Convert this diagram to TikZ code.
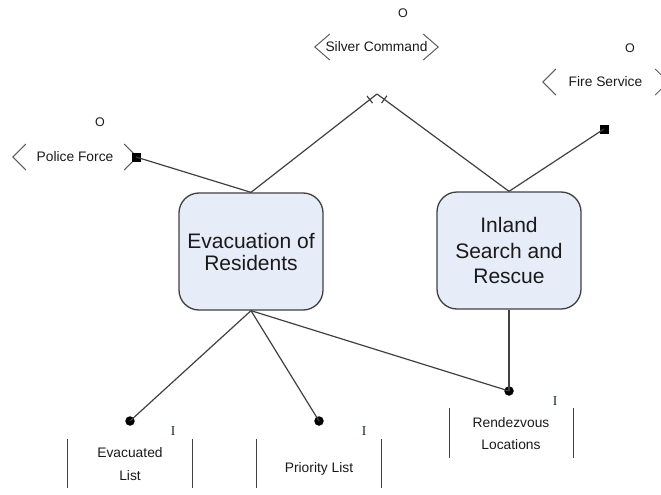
\documentclass[tikz,border=0pt]{standalone}
\usepackage{fontspec}
\setmainfont{Liberation Sans}
\newfontfamily\serifI{Liberation Serif}
\usetikzlibrary{calc}
\definecolor{linec}{HTML}{404040}
\definecolor{boxfill}{HTML}{E6ECF8}
\definecolor{txt}{HTML}{1A1A1A}
\newcommand\rolebrackets[3]{%
  \draw[bracket] ([shift={(#2,-#3)}]#1.west) -- (#1.west) -- ([shift={(#2,#3)}]#1.west);
  \draw[bracket] ([shift={(-#2,-#3)}]#1.east) -- (#1.east) -- ([shift={(-#2,#3)}]#1.east);}
\newcommand\storelines[1]{%
  \draw[storeline] (#1.north west) -- (#1.south west);
  \draw[storeline] (#1.north east) -- (#1.south east);}
\begin{document}
\begin{tikzpicture}[x=1pt,y=-1pt,
  conn/.style={draw=linec, line width=1.2pt},
  bracket/.style={draw=linec!85, line width=1pt},
  storeline/.style={draw=linec, line width=1.3pt},
  task/.style={draw=linec, line width=1.3pt, fill=boxfill, rounded corners=20pt,
    minimum width=144pt, minimum height=117pt, align=center, text=txt, inner sep=0pt},
  role/.style={minimum height=26pt, inner sep=0pt, text=txt, font=\fontsize{13.8}{16}\selectfont},
  small/.style={text=txt, align=center, font=\fontsize{13.8}{23}\selectfont, inner sep=0pt},
  store/.style={minimum width=124pt, minimum height=49pt, inner sep=0pt},
  mark O/.style={text=txt, font=\fontsize{12.5}{14}\selectfont, inner sep=0pt},
  mark I/.style={text=txt!85!teal, font=\serifI\fontsize{13.5}{14}\selectfont, inner sep=0pt},
  sq/.style={fill=black, minimum size=9pt, inner sep=0pt},
  dot/.style={circle, fill=black, minimum size=9.5pt, inner sep=0pt},
]
\useasboundingbox (0,0) rectangle (661,495);

% roles
\node[role, minimum width=123pt] (silver) at (376.5,47) {Silver Command};
\rolebrackets{silver}{15}{13}
\node[mark O] (silverO) at (403,13) {O};

\node[role, minimum width=125pt] (fire) at (605.5,82) {Fire Service};
\rolebrackets{fire}{13}{13}
\node[mark O] (fireO) at (630,48) {O};

\node[role, minimum width=124pt] (police) at (75,157) {Police Force};
\rolebrackets{police}{13}{13}
\node[mark O] (policeO) at (100,122) {O};

% tasks
\node[task, font=\fontsize{21}{22}\selectfont] (evac) at (251,251.5) {Evacuation of\\Residents};
\node[task, font=\fontsize{21}{25.5}\selectfont] (inland) at (509,250.5) {Inland\\Search and\\Rescue};

% squares
\node[sq] (psq) at (136,157) {};
\node[sq] (fsq) at (604,129) {};

% junction with silver command
\coordinate (apex) at (377,94);
\draw[conn] (evac.north) -- coordinate[pos=0.943] (t1) (apex);
\draw[conn] (apex) -- coordinate[pos=0.055] (t2) (inland.north);
\draw[conn] ($(t1)!4.5pt!90:(apex)$) -- ($(t1)!4.5pt!-90:(apex)$);
\draw[conn] ($(t2)!4.5pt!90:(apex)$) -- ($(t2)!4.5pt!-90:(apex)$);

\draw[conn] (psq.center) -- (evac.north);
\draw[conn] (fsq.center) -- (inland.north);

% stores
\node[store] (evl) at (130,463.5) {};
\storelines{evl}
\node[small] (evltxt) at (130,464.5) {Evacuated\\List};
\node[mark I] (evlI) at (173,431) {I};
\node[dot] (evd) at (130,421) {};

\node[store] (prl) at (319,463.5) {};
\storelines{prl}
\node[small] (prltxt) at (319,469) {Priority List};
\node[mark I] (prlI) at (364,431) {I};
\node[dot] (prd) at (319,421) {};

\node[store] (rvl) at (511.5,433) {};
\storelines{rvl}
\node[small, font=\fontsize{13.8}{22}\selectfont] (rvltxt) at (511,434) {Rendezvous\\Locations};
\node[mark I] (rvlI) at (555,401) {I};
\node[dot] (rvd) at (509,391) {};

% connectors to stores
\draw[conn] (evac.south) -- (evd.center);
\draw[conn] (evac.south) -- (prd.center);
\draw[conn] (evac.south) -- (rvd.center);
\draw[conn] (inland.south) -- (rvd.center);
\end{tikzpicture}
\end{document}
